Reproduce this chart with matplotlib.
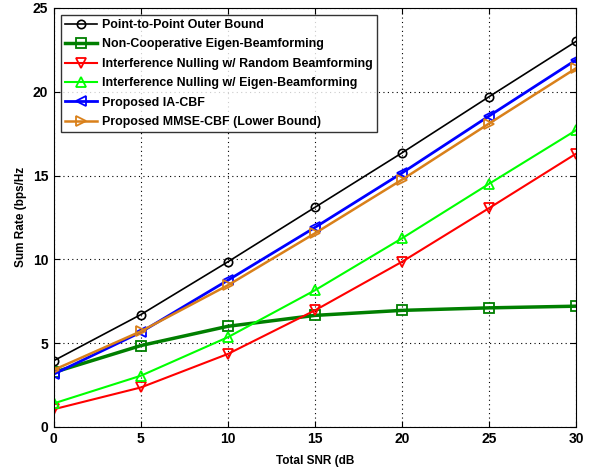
import numpy as np
import matplotlib.pyplot as plt

snr = [0, 5, 10, 15, 20, 25, 30]

outer_bound = [3.95, 6.7, 9.85, 13.1, 16.35, 19.7, 23.0]
noncoop_eig = [3.25, 4.85, 6.0, 6.65, 6.95, 7.1, 7.2]
in_random = [1.05, 2.35, 4.35, 6.95, 9.85, 13.05, 16.3]
in_eigen = [1.4, 3.05, 5.35, 8.15, 11.25, 14.5, 17.7]
ia_cbf = [3.15, 5.65, 8.75, 11.9, 15.15, 18.55, 21.9]
mmse_cbf = [3.4, 5.7, 8.45, 11.55, 14.75, 18.1, 21.4]

labels = ['Point-to-Point Outer Bound',
          'Non-Cooperative Eigen-Beamforming',
          'Interference Nulling w/ Random Beamforming',
          'Interference Nulling w/ Eigen-Beamforming',
          'Proposed IA-CBF',
          'Proposed MMSE-CBF (Lower Bound)']

plt.rcParams['font.family'] = ['Liberation Sans', 'DejaVu Sans']
plt.rcParams['font.weight'] = 'bold'

fig = plt.figure(figsize=(5.92, 4.68), dpi=100)
ax = fig.add_axes([0.091, 0.088, 0.882, 0.895])

ax.plot(snr, outer_bound, color='black', lw=1.2, marker='o', ms=6, mfc='none', mew=1.2, label=labels[0])
ax.plot(snr, noncoop_eig, color='#007f00', lw=2.5, marker='s', ms=6.5, mfc='none', mew=1.3, label=labels[1])
ax.plot(snr, in_random, color='red', lw=1.5, marker='v', ms=7.5, mfc='none', mew=1.3, label=labels[2])
ax.plot(snr, in_eigen, color='#00ff00', lw=1.5, marker='^', ms=7.5, mfc='none', mew=1.3, label=labels[3])
ax.plot(snr, ia_cbf, color='blue', lw=2, marker='<', ms=7.5, mfc='none', mew=1.3, label=labels[4])
ax.plot(snr, mmse_cbf, color='#d9801a', lw=1.8, marker='>', ms=7.5, mfc='none', mew=1.3, label=labels[5])

ax.set_xlim(0, 30)
ax.set_ylim(0, 25)
ax.set_xticks([0, 5, 10, 15, 20, 25, 30])
ax.set_yticks([0, 5, 10, 15, 20, 25])
ax.tick_params(direction='in', top=True, right=True, labelsize=10, length=4, pad=4)
for t in ax.get_xticklabels() + ax.get_yticklabels():
    t.set_fontweight('bold')
ax.grid(True, linestyle=(0, (1, 3)), color='black', lw=0.8)

ax.set_xlabel('Total SNR (dB', fontsize=8.5, fontweight='bold', labelpad=6)
ax.set_ylabel('Sum Rate (bps/Hz', fontsize=8.5, fontweight='bold', labelpad=4)

leg = ax.legend(loc='upper left', fontsize=8.9, frameon=True, fancybox=False,
                edgecolor='black', handlelength=2.6, borderaxespad=0.55,
                labelspacing=0.6, borderpad=0.35, handletextpad=0.4)
leg.get_frame().set_linewidth(1.0)
for t in leg.get_texts():
    t.set_fontweight('bold')

fig.savefig('out.png', dpi=100)
